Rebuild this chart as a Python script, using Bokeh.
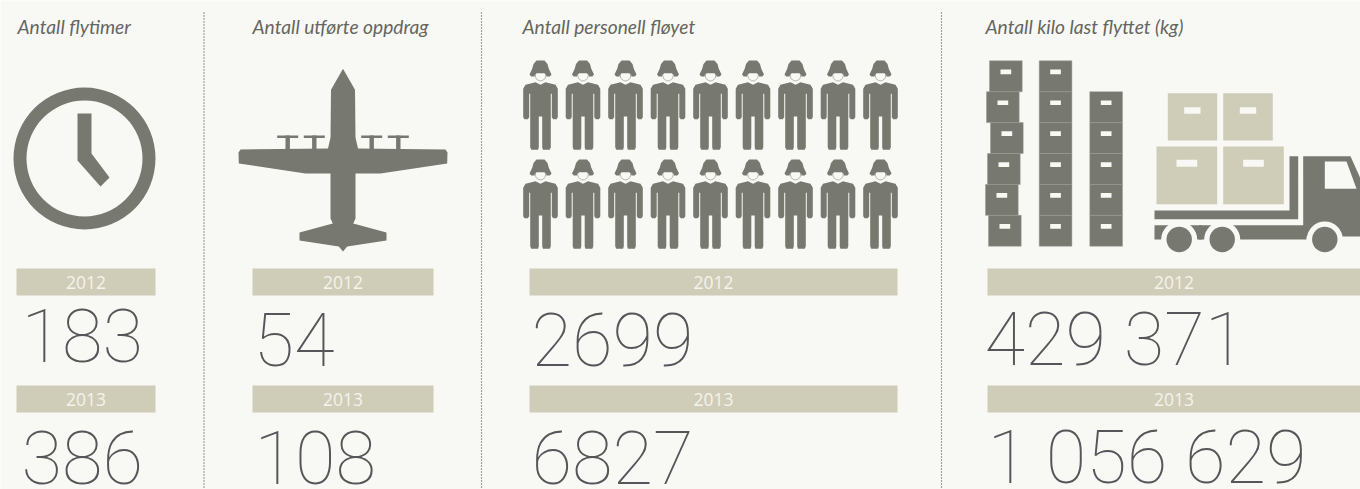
from bokeh.plotting import figure
from bokeh.embed import file_html
from bokeh.resources import INLINE
from bokeh.core.properties import value

# ---------- chart values ----------
panel_titles = ["Antall flytimer", "Antall utførte oppdrag", "Antall personell fløyet", "Antall kilo last flyttet (kg)"]
years = ["2012", "2013"]
values_2012 = ["183", "54", "2699", "429 371"]
values_2013 = ["386", "108", "6827", "1 056 629"]
soldier_rows = 2
soldier_cols = 9
box_stacks = [6, 6, 5]

# ---------- palette / fonts ----------
BG = "#f8f9f5"; ICON = "#777870"; TAN = "#cfccb8"; NUM = "#55565a"; HEAD = "#65665f"; YEAR = "#f4f4ec"
HEAD_FONT = "Lato"; YEAR_FONT = "Open Sans"; NUM_FONT = "Roboto Thin"

p = figure(width=1360, height=489, x_range=(0, 1360), y_range=(489, 0), toolbar_location=None,
           output_backend="svg", min_border=0, background_fill_color=BG, border_fill_color=BG,
           outline_line_color=None, margin=(0, 0, 0, 0))
p.xaxis.visible = False; p.yaxis.visible = False; p.grid.visible = False

# ---------- layout ----------
bar_x = [(16, 155), (252, 433), (529, 897), (987, 1360)]
bar_y = [(268, 295), (385, 412)]
head_x = [17, 252, 522, 985]
num_x = [[21, 253, 531, 984], [21, 254, 531, 987]]
num_y = [[335, 339, 339, 339], [457, 457, 457, 457]]
sep_x = [203.5, 481, 941]

p.segment(sep_x, [12]*3, sep_x, [489]*3, line_color="#4c4c47", line_width=1.2, line_dash="1 2")

p.text(head_x, [26]*4, text=panel_titles, text_font=value(HEAD_FONT), text_font_style="italic",
       text_font_size="19.2px", text_color=HEAD, text_baseline="middle")

for r, (vals, yr) in enumerate(zip([values_2012, values_2013], years)):
    p.quad(left=[b[0] for b in bar_x], right=[b[1] for b in bar_x], top=[bar_y[r][0]]*4, bottom=[bar_y[r][1]]*4,
           fill_color=TAN, line_color=None)
    p.text([(b[0]+b[1])/2 for b in bar_x], [bar_y[r][0]+14]*4, text=[yr]*4, text_font=value(YEAR_FONT),
           text_font_size="17.5px", text_color=YEAR, text_align="center", text_baseline="middle")
    p.text(num_x[r], num_y[r], text=vals, text_font=value(NUM_FONT), text_font_size="74px",
           text_color=NUM, text_baseline="middle")

# ---------- clock ----------
p.annulus([84], [158], inner_radius=58, outer_radius=71, fill_color=ICON, line_color=None)
p.patch([77, 91, 91, 109, 100, 77], [113, 113, 153, 177, 186, 160], fill_color=ICON, line_color=None)

# ---------- plane ----------
cx = 342.5
half = [(0, 68.3), (12, 89.3), (12.5, 137), (15, 148), (102.5, 149), (104.5, 152), (104.2, 163), (37.5, 173),
        (12.5, 173), (12.5, 218), (10.2, 223), (43.5, 232), (43.5, 240), (4.2, 246), (0, 251)]
xs = [cx+d for d, _ in half] + [cx-d for d, _ in reversed(half)]
ys = [y for _, y in half] + [y for _, y in reversed(half)]
p.patch(xs, ys, fill_color=ICON, line_color=None)
for off in (55.3, 28.7):
    for s in (-1, 1):
        c = cx + s*off
        p.quad(left=[c-10.5], right=[c+10.5], top=[135], bottom=[137.5], fill_color=ICON, line_color=None)
        p.quad(left=[c-2.2], right=[c+2.2], top=[135], bottom=[150], fill_color=ICON, line_color=None)

# ---------- soldiers ----------
body = [(0, 24.3), (5, 21.7), (15, 24.2), (17.3, 28.3), (17.3, 56.7), (16, 58.7), (12.7, 58.7), (11.3, 56.7),
        (11.3, 33.3), (10.3, 33.3), (10.3, 86.7), (9.3, 89.3), (2.4, 89.3), (1.7, 86.7), (1.7, 56), (0, 56)]
helmet = [(-11, 14), (-9.3, 16), (-6, 16), (-4, 12.7), (4, 12.7), (6, 16), (9.3, 16), (11, 14), (8.3, 8.3),
          (7, 3.5), (4, 0), (-4, 0), (-7, 3.5), (-8.3, 8.3)]
strap = [(-5.5, 14), (-4.5, 18), (-1.5, 20.3), (1.5, 20.3), (4.5, 18), (5.5, 14)]
for r in range(soldier_rows):
    y0 = 60 + r*99
    for c in range(soldier_cols):
        x0 = 540 + c*42.5
        bx = [x0+d for d, _ in body] + [x0-d for d, _ in reversed(body)]
        by = [y0+v for _, v in body] + [y0+v for _, v in reversed(body)]
        p.patch(bx, by, fill_color=ICON, line_color=None)
        p.patch([x0+d for d, _ in helmet], [y0+v for _, v in helmet], fill_color=ICON, line_color=None)
        p.line([x0+d for d, _ in strap], [y0+v for _, v in strap], line_color="#b9b9b2", line_width=1)

# ---------- crates ----------
stack_lefts = [[988, 985, 987, 990, 986, 989], [1038.7]*6, [1089.3]*5]
bottoms = [245.7, 245.7, 245.7]
bw, bh = 32.7, 30.9
for n, lefts, b in zip(box_stacks, stack_lefts, bottoms):
    for i, l in enumerate(lefts[:n]):
        t = b - (i+1)*bh
        p.quad(left=[l], right=[l+bw], top=[t], bottom=[t+bh], fill_color=ICON, line_color="#9a9a93", line_width=0.5)
        p.quad(left=[l+11], right=[l+21.7], top=[t+8.7], bottom=[t+13.4], fill_color=BG, line_color=None)

# ---------- truck ----------
for l, r_, t, b in [(1167.3, 1216.7, 92.7, 140), (1222.7, 1272.3, 92.7, 140), (1156, 1216.7, 146, 203.7), (1222.7, 1283.3, 146, 203.7)]:
    p.quad(left=[l], right=[r_], top=[t], bottom=[b], fill_color=TAN, line_color=None)
for l, r_, t, b in [(1183.7, 1200, 106.7, 113.3), (1239.3, 1255.7, 106.7, 113.3), (1176, 1196.7, 159.3, 166.3), (1242.7, 1263.3, 159.3, 166.3)]:
    p.quad(left=[l], right=[r_], top=[t], bottom=[b], fill_color=BG, line_color=None)
p.patch([1154, 1289, 1289, 1297.7, 1297.7, 1154], [210, 210, 155.7, 155.7, 218.7, 218.7], fill_color=ICON, line_color=None)
p.patch([1302.7, 1350, 1360, 1360, 1302.7], [155.7, 155.7, 178, 236, 236], fill_color=ICON, line_color=None)
p.quad(left=[1154], right=[1306], top=[224.7], bottom=[239], fill_color=ICON, line_color=None)
p.patch([1324.3, 1346, 1356, 1324.3], [161, 161, 188.3, 188.3], fill_color=BG, line_color=None)
wheels = [1178.7, 1221.7, 1324.3]
p.circle(wheels, [239]*3, radius=18, fill_color=BG, line_color=None)
p.quad(left=[1198.5], right=[1201.5], top=[224.7], bottom=[239], fill_color=ICON, line_color=None)
p.circle(wheels, [239]*3, radius=12.7, fill_color=ICON, line_color=None)

open("out.html", "w").write(file_html(p, INLINE))
